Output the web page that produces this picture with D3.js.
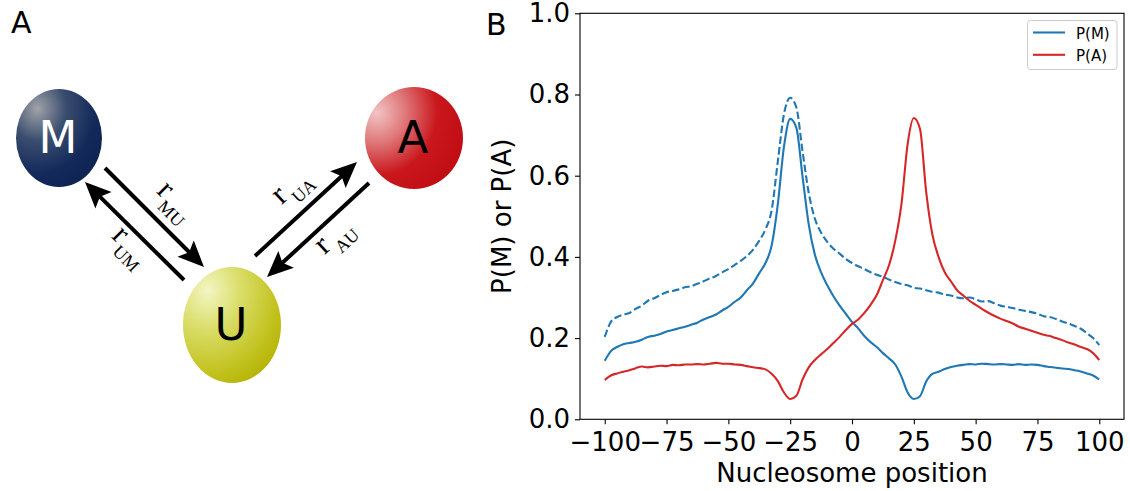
<!DOCTYPE html>
<html><head><meta charset="utf-8">
<script src="https://cdn.jsdelivr.net/npm/d3@7"></script>
<style>body{margin:0;background:#fff}svg{display:block}</style>
</head><body>
<svg id="c" width="1130" height="491"></svg>
<script>
// ---------- data ----------
const positions = [
  -100,-97.5,-95,-92.5,-90,-87.5,-85,-82.5,-80,-77.5,
  -75,-72.5,-70,-67.5,-65,-62.5,-60,-57.5,-55,-52.5,
  -50,-47.5,-45,-42.5,-40,-37.5,-35,-32.5,-30,-27.5,
  -25,-22.5,-20,-17.5,-15,-12.5,-10,-7.5,-5,-2.5,
  0,
  2.5,5,7.5,10,12.5,15,17.5,20,22.5,25,
  27.5,30,32.5,35,37.5,40,42.5,45,47.5,50,
  52.5,55,57.5,60,62.5,65,67.5,70,72.5,75,
  77.5,80,82.5,85,87.5,90,92.5,95,97.5,100
];
const pM = [
  0.144,0.168,0.178,0.185,0.188,0.191,0.196,0.203,0.206,0.210,
  0.216,0.220,0.224,0.228,0.233,0.238,0.246,0.252,0.258,0.268,
  0.277,0.289,0.300,0.318,0.335,0.360,0.385,0.428,0.530,0.672,
  0.740,0.718,0.598,0.480,0.405,0.362,0.330,0.303,0.280,0.260,
  0.240,
  0.224,0.205,0.190,0.178,0.163,0.150,0.135,0.105,0.066,0.050,
  0.057,0.093,0.112,0.117,0.124,0.129,0.132,0.134,0.136,0.135,
  0.137,0.136,0.135,0.136,0.135,0.134,0.136,0.134,0.135,0.134,
  0.131,0.129,0.127,0.125,0.124,0.121,0.118,0.113,0.108,0.098
];
const pMdashed = [
  0.203,0.240,0.252,0.258,0.262,0.272,0.280,0.292,0.298,0.306,
  0.313,0.316,0.320,0.325,0.328,0.334,0.340,0.347,0.353,0.362,
  0.370,0.380,0.390,0.402,0.418,0.440,0.468,0.515,0.635,0.752,
  0.792,0.768,0.660,0.558,0.494,0.460,0.437,0.420,0.408,0.395,
  0.385,
  0.377,0.370,0.362,0.356,0.351,0.344,0.338,0.333,0.330,0.324,
  0.322,0.318,0.314,0.312,0.307,0.305,0.300,0.298,0.300,0.296,
  0.290,0.291,0.286,0.280,0.277,0.274,0.270,0.267,0.264,0.260,
  0.254,0.252,0.247,0.241,0.236,0.230,0.223,0.212,0.200,0.183
];
const pA = [
  0.097,0.108,0.113,0.117,0.121,0.126,0.130,0.128,0.130,0.132,
  0.131,0.134,0.133,0.135,0.135,0.136,0.135,0.137,0.139,0.137,
  0.137,0.135,0.134,0.131,0.128,0.126,0.123,0.112,0.094,0.066,
  0.050,0.058,0.098,0.128,0.146,0.160,0.173,0.188,0.203,0.220,
  0.235,
  0.246,0.262,0.282,0.306,0.343,0.380,0.440,0.530,0.678,0.742,
  0.715,0.560,0.455,0.400,0.362,0.340,0.318,0.305,0.292,0.282,
  0.272,0.263,0.255,0.248,0.242,0.236,0.228,0.223,0.218,0.213,
  0.208,0.205,0.200,0.195,0.189,0.184,0.178,0.173,0.163,0.146
];
const xTicks = [-100,-75,-50,-25,0,25,50,75,100];
const yTicks = [0,0.2,0.4,0.6,0.8,1.0];
const legendLabels = ["P(M)","P(A)"];
const xLabel = "Nucleosome position";
const yLabel = "P(M) or P(A)";
const nodeLabels = ["M","U","A"];
const rateLabels = [["r","MU"],["r","UM"],["r","UA"],["r","AU"]];

// ---------- layout ----------
const svg = d3.select("#c");
const font = "DejaVu Sans, sans-serif";
const blue = "#1f77b4", red = "#d62728";

// ===== Panel A (diagram) =====
const defs = svg.append("defs");
const grads = [
  {id:"gM", fx:0.25, fy:0.2, stops:[["0%","#a0a3a8"],["35%","#3a4d6e"],["70%","#13295a"],["100%","#0c2350"]]},
  {id:"gA", fx:0.12, fy:0.25, stops:[["0%","#f2c4c4"],["30%","#e07a7c"],["65%","#c9171c"],["100%","#c00d14"]]},
  {id:"gU", fx:0.25, fy:0.2, stops:[["0%","#f3f6c4"],["35%","#dade6a"],["75%","#c2c21e"],["100%","#b3b000"]]}
];
grads.forEach(g => {
  const rg = defs.append("radialGradient").attr("id", g.id)
    .attr("cx", g.fx).attr("cy", g.fy).attr("fx", g.fx).attr("fy", g.fy).attr("r", 0.95);
  g.stops.forEach(s => rg.append("stop").attr("offset", s[0]).attr("stop-color", s[1]));
});
const nodes = [
  {label:nodeLabels[0], cx:59, cy:138, rx:43, ry:49, fill:"url(#gM)", tc:"#fff"},
  {label:nodeLabels[1], cx:232, cy:325, rx:49, ry:58, fill:"url(#gU)", tc:"#000"},
  {label:nodeLabels[2], cx:414, cy:138, rx:49, ry:51, fill:"url(#gA)", tc:"#000"}
];
nodes.forEach(n => {
  svg.append("ellipse").attr("cx", n.cx).attr("cy", n.cy).attr("rx", n.rx).attr("ry", n.ry).attr("fill", n.fill);
  svg.append("text").attr("x", n.cx - 1).attr("y", n.cy + 15).attr("text-anchor", "middle")
    .attr("font-family", font).attr("font-size", 45).attr("fill", n.tc).text(n.label);
});
const arrows = [
  [105,168,204,267],
  [184,280,85,182],
  [255,256,357,162],
  [369,183,267,277]
];
arrows.forEach(a => {
  const [x1,y1,x2,y2] = a;
  const dx = x2-x1, dy = y2-y1, L = Math.hypot(dx,dy);
  const ux = dx/L, uy = dy/L, px = -uy, py = ux;
  const hl = 26, hw = 11.5;
  svg.append("line").attr("x1", x1).attr("y1", y1)
    .attr("x2", x2 - ux*18).attr("y2", y2 - uy*18)
    .attr("stroke", "#000").attr("stroke-width", 4);
  const bx = x2 - ux*hl, by = y2 - uy*hl, nx = x2 - ux*21, ny = y2 - uy*21;
  svg.append("path").attr("d",
    `M${x2},${y2}L${bx+px*hw},${by+py*hw}L${nx},${ny}L${bx-px*hw},${by-py*hw}Z`)
    .attr("fill", "#000");
});
const rateLayout = [
  {x:164, y:191, ang:45},
  {x:119, y:236, ang:45},
  {x:281, y:197, ang:-42.7},
  {x:324, y:247, ang:-42.7}
];
rateLabels.forEach((r, i) => {
  const l = rateLayout[i];
  const g = svg.append("g").attr("transform", `translate(${l.x},${l.y}) rotate(${l.ang})`);
  g.append("text").attr("x", 0).attr("y", 6.5).attr("text-anchor", "middle")
    .attr("font-family", "Liberation Serif, DejaVu Serif, serif").attr("font-size", 31).text(r[0]);
  g.append("text").attr("x", 21).attr("y", 17).attr("text-anchor", "middle")
    .attr("font-family", "Liberation Serif, DejaVu Serif, serif").attr("font-size", 18).text(r[1]);
});
svg.append("text").attr("x", 11).attr("y", 33).attr("font-family", font).attr("font-size", 30).text("A");

// ===== Panel B (chart) =====
const x = d3.scaleLinear().domain([-110,110]).range([580,1124]);
const y = d3.scaleLinear().domain([0,1]).range([419.3,13.3]);

const xAxis = svg.append("g").attr("transform", `translate(0,${y(0)})`)
  .call(d3.axisBottom(x).tickValues(xTicks).tickSize(5).tickPadding(8).tickSizeOuter(0).tickFormat(d3.format("d")));
const yAxis = svg.append("g").attr("transform", `translate(${x(-110)},0)`)
  .call(d3.axisLeft(y).tickValues(yTicks).tickSize(5).tickPadding(5).tickSizeOuter(0).tickFormat(d3.format(".1f")));
[xAxis, yAxis].forEach(ax => {
  ax.select(".domain").remove();
  ax.selectAll("text").attr("font-family", font).attr("font-size", 26).attr("fill", "#000");
  ax.selectAll("line").attr("stroke", "#000").attr("stroke-width", 1.1);
});

const line = d3.line().x((d, i) => x(positions[i])).y(d => y(d)).curve(d3.curveMonotoneX);
svg.append("path").datum(pMdashed).attr("d", line).attr("fill", "none")
  .attr("stroke", blue).attr("stroke-width", 2.1).attr("stroke-dasharray", "7.5,3.2");
svg.append("path").datum(pM).attr("d", line).attr("fill", "none")
  .attr("stroke", blue).attr("stroke-width", 2.1);
svg.append("path").datum(pA).attr("d", line).attr("fill", "none")
  .attr("stroke", red).attr("stroke-width", 2.1);

// frame
svg.append("rect").attr("x", x(-110)).attr("y", y(1)).attr("width", x(110) - x(-110)).attr("height", y(0) - y(1))
  .attr("fill", "none").attr("stroke", "#000").attr("stroke-width", 1.1);

// axis labels
svg.append("text").attr("x", (x(-110)+x(110))/2).attr("y", 481.5).attr("text-anchor", "middle")
  .attr("font-family", font).attr("font-size", 26).text(xLabel);
svg.append("text").attr("transform", `translate(511,${(y(0)+y(1))/2}) rotate(-90)`).attr("text-anchor", "middle")
  .attr("font-family", font).attr("font-size", 26).text(yLabel);
svg.append("text").attr("x", 486).attr("y", 35).attr("font-family", font).attr("font-size", 30).text("B");

// legend
const lg = svg.append("g");
lg.append("rect").attr("x", 1027.5).attr("y", 20.5).attr("width", 89.5).attr("height", 49).attr("rx", 3)
  .attr("fill", "#fff").attr("fill-opacity", 0.8).attr("stroke", "#cccccc").attr("stroke-width", 1);
[blue, red].forEach((c, i) => {
  const yy = 32.5 + i*22.3;
  lg.append("line").attr("x1", 1033).attr("x2", 1065).attr("y1", yy).attr("y2", yy)
    .attr("stroke", c).attr("stroke-width", 2.1);
  lg.append("text").attr("x", 1076).attr("y", yy + 6).attr("font-family", font).attr("font-size", 15)
    .text(legendLabels[i]);
});
</script>
</body></html>
